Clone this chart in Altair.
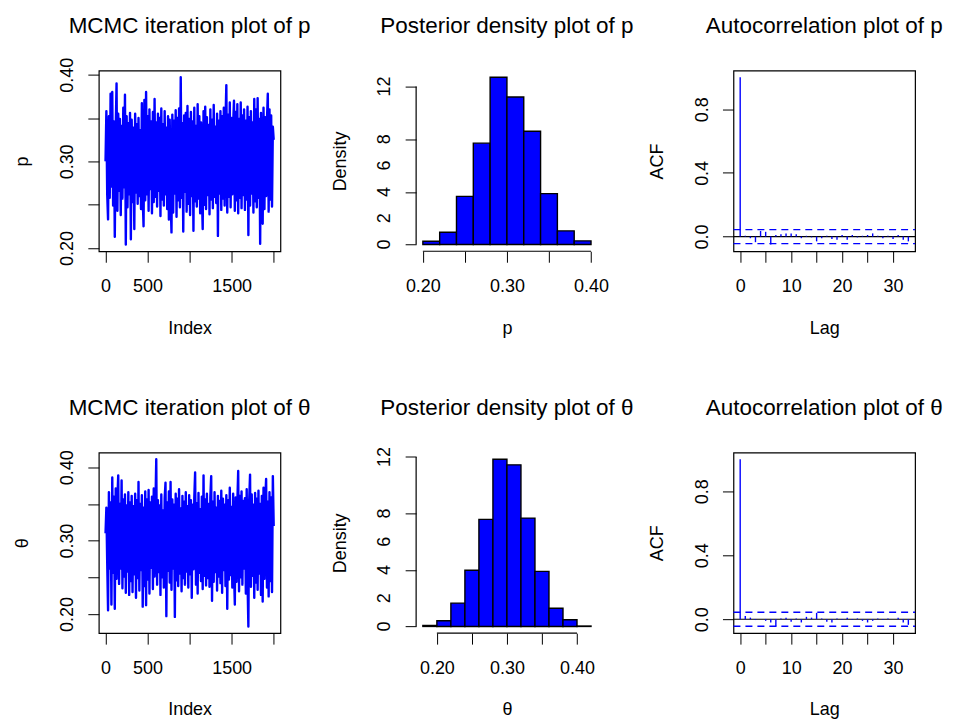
import altair as alt
import pandas as pd
import numpy as np

# ---------------- data ----------------
p_trace = [
    0.300, 0.358, 0.262, 0.233, 0.352, 0.258, 0.378, 0.271, 0.380, 0.249, 0.346, 0.213, 0.337, 0.390, 0.243, 0.355, 0.266, 0.349, 0.238, 0.341,
    0.257, 0.362, 0.270, 0.377, 0.204, 0.352, 0.247, 0.344, 0.262, 0.356, 0.210, 0.348, 0.253, 0.339, 0.222, 0.355, 0.264, 0.343, 0.251, 0.350,
    0.260, 0.336, 0.245, 0.367, 0.258, 0.225, 0.371, 0.255, 0.380, 0.262, 0.352, 0.243, 0.360, 0.268, 0.346, 0.240, 0.357, 0.253, 0.372, 0.259,
    0.345, 0.248, 0.355, 0.266, 0.350, 0.237, 0.361, 0.256, 0.343, 0.249, 0.358, 0.262, 0.339, 0.245, 0.352, 0.233, 0.348, 0.260, 0.218, 0.354,
    0.241, 0.347, 0.263, 0.359, 0.236, 0.350, 0.255, 0.361, 0.247, 0.397, 0.258, 0.344, 0.219, 0.353, 0.265, 0.356, 0.242, 0.364, 0.251, 0.349,
    0.238, 0.357, 0.260, 0.346, 0.220, 0.362, 0.254, 0.341, 0.248, 0.366, 0.257, 0.352, 0.240, 0.345, 0.264, 0.222, 0.358, 0.250, 0.363, 0.245,
    0.351, 0.261, 0.342, 0.239, 0.360, 0.256, 0.348, 0.246, 0.365, 0.259, 0.340, 0.252, 0.355, 0.214, 0.347, 0.263, 0.358, 0.244, 0.352, 0.257,
    0.362, 0.249, 0.346, 0.388, 0.241, 0.354, 0.259, 0.368, 0.247, 0.350, 0.262, 0.343, 0.370, 0.243, 0.357, 0.255, 0.366, 0.240, 0.349, 0.258,
    0.368, 0.246, 0.353, 0.261, 0.360, 0.244, 0.347, 0.256, 0.363, 0.215, 0.351, 0.249, 0.358, 0.263, 0.345, 0.241, 0.372, 0.254, 0.360, 0.247,
    0.373, 0.258, 0.349, 0.205, 0.356, 0.252, 0.228, 0.362, 0.245, 0.351, 0.260, 0.347, 0.378, 0.242, 0.360, 0.256, 0.353, 0.248, 0.340, 0.325,
]

theta_trace = [
    0.310, 0.345, 0.270, 0.205, 0.366, 0.262, 0.352, 0.213, 0.386, 0.256, 0.360, 0.207, 0.371, 0.248, 0.357, 0.389, 0.241, 0.350, 0.262, 0.382,
    0.235, 0.356, 0.251, 0.363, 0.229, 0.348, 0.258, 0.366, 0.226, 0.352, 0.245, 0.361, 0.230, 0.347, 0.254, 0.364, 0.222, 0.355, 0.249, 0.380,
    0.232, 0.350, 0.260, 0.362, 0.210, 0.345, 0.238, 0.367, 0.212, 0.356, 0.247, 0.369, 0.228, 0.352, 0.263, 0.360, 0.234, 0.371, 0.251, 0.346,
    0.411, 0.240, 0.355, 0.257, 0.348, 0.226, 0.363, 0.250, 0.341, 0.236, 0.358, 0.379, 0.197, 0.352, 0.259, 0.367, 0.243, 0.380, 0.233, 0.356,
    0.262, 0.349, 0.196, 0.364, 0.246, 0.357, 0.238, 0.370, 0.255, 0.344, 0.231, 0.361, 0.249, 0.353, 0.240, 0.366, 0.258, 0.347, 0.236, 0.362,
    0.254, 0.355, 0.222, 0.349, 0.261, 0.358, 0.393, 0.240, 0.351, 0.228, 0.365, 0.256, 0.343, 0.245, 0.360, 0.234, 0.389, 0.252, 0.356, 0.239,
    0.364, 0.249, 0.350, 0.237, 0.359, 0.388, 0.218, 0.353, 0.244, 0.366, 0.257, 0.345, 0.232, 0.361, 0.251, 0.354, 0.242, 0.368, 0.229, 0.357,
    0.260, 0.349, 0.238, 0.362, 0.207, 0.355, 0.247, 0.372, 0.253, 0.346, 0.236, 0.364, 0.258, 0.213, 0.359, 0.244, 0.352, 0.395, 0.231, 0.361,
    0.250, 0.367, 0.240, 0.354, 0.262, 0.358, 0.228, 0.370, 0.246, 0.183, 0.356, 0.390, 0.237, 0.363, 0.252, 0.349, 0.222, 0.365, 0.243, 0.357,
    0.233, 0.368, 0.255, 0.350, 0.226, 0.361, 0.217, 0.372, 0.248, 0.358, 0.384, 0.236, 0.353, 0.224, 0.366, 0.245, 0.359, 0.230, 0.388, 0.320,
]

n_iter = 2000

hist_edges_p = [0.20, 0.22, 0.24, 0.26, 0.28, 0.30, 0.32, 0.34, 0.36, 0.38, 0.40]
hist_dens_p = [0.25, 0.93, 3.66, 7.70, 12.70, 11.20, 8.60, 3.87, 1.04, 0.28]

hist_edges_theta = [0.18, 0.20, 0.22, 0.24, 0.26, 0.28, 0.30, 0.32, 0.34, 0.36, 0.38, 0.40, 0.42]
hist_dens_theta = [0.07, 0.40, 1.65, 3.98, 7.58, 11.84, 11.44, 7.67, 3.90, 1.29, 0.47, 0.03]

acf_lags = list(range(34))
acf_p = [1.0, 0.005, -0.010, -0.035, 0.035, 0.030, -0.050, 0.010, 0.015, 0.020, 0.020, 0.015,
         -0.010, 0.005, -0.005, -0.030, -0.010, 0.005, -0.015, -0.020, 0.010, -0.020, 0.010,
         -0.005, 0.005, 0.010, 0.020, 0.005, -0.010, 0.005, -0.015, 0.010, -0.020, -0.030]
acf_theta = [1.0, 0.020, 0.010, -0.005, 0.000, -0.010, -0.020, -0.045, 0.005, 0.010, -0.015,
             0.005, -0.020, 0.015, 0.010, 0.040, 0.005, -0.015, -0.020, 0.005, -0.005, 0.010,
             -0.005, 0.005, -0.010, -0.020, -0.010, 0.005, -0.005, 0.005, 0.000, 0.010, -0.020, -0.035]
acf_ci = 0.0438

trace_ticks = [0, 500, 1000, 1500, 2000]
trace_hidden = [1000, 2000]
param_ticks = [0.20, 0.25, 0.30, 0.35, 0.40]
param_hidden = [0.25, 0.35]
dens_ticks = [0, 2, 4, 6, 8, 10, 12]
dens_labels = [0, 2, 4, 6, 8, 12]
lag_ticks = [0, 5, 10, 15, 20, 25, 30]
lag_hidden = [5, 15, 25]
acf_ticks = [0.0, 0.2, 0.4, 0.6, 0.8, 1.0]
acf_hidden = [0.2, 0.6, 1.0]

# ---------------- styling ----------------
FONT = "Liberation Sans"
BLUE = "#0000FF"
W, H = 182, 181
AX_FS = 18
TITLE_FS = 22.5
TICK = 11
YPAD = 15


def hide_expr(hidden):
    conds = " || ".join(f"abs(datum.value - ({h})) < 1e-9" for h in hidden)
    return f"({conds}) ? '' : datum.label"


def common_axis(**kw):
    return alt.Axis(
        grid=False, domain=False, ticks=True, tickSize=TICK, tickColor="black", tickWidth=1,
        labelColor="black", labelFont=FONT, labelFontSize=AX_FS,
        titleFont=FONT, titleFontSize=AX_FS, titleFontWeight="normal", titleColor="black",
        labelOverlap=False, labelFlush=False, labelBound=False, labelSeparation=0, **kw)


def x_axis(values, hidden, fmt, title):
    return common_axis(values=values, labelExpr=hide_expr(hidden), format=fmt, title=title,
                       labelPadding=29, labelBaseline="alphabetic", labelAlign="center", labelAngle=0,
                       titleX=W / 2, titleY=82, titleBaseline="alphabetic", titleAlign="center",
                       titleAngle=0)


def y_axis(values, hidden, fmt, title, labels=True):
    kw = dict(values=values, format=fmt, title=title,
              labelPadding=YPAD, labelBaseline="alphabetic", labelAlign="center", labelAngle=270,
              titleX=-71, titleY=H / 2, titleBaseline="alphabetic", titleAlign="center",
              titleAngle=270, labels=labels)
    if hidden:
        kw["labelExpr"] = hide_expr(hidden)
    return common_axis(**kw)


one_row = pd.DataFrame({"k": [0]})
BOX = alt.ViewBackground(stroke="black", strokeWidth=1.2, strokeOpacity=1)
NOBOX = alt.ViewBackground(stroke="white", strokeWidth=0, strokeOpacity=0, fill="white")


def title_layer(text):
    return alt.Chart(one_row).mark_text(
        font=FONT, fontSize=TITLE_FS, color="black", align="center", baseline="alphabetic"
    ).encode(x=alt.value(W / 2), y=alt.value(-38), text=alt.value(text))


def ext(lo, hi):
    r = hi - lo
    return [lo - 0.04 * r, hi + 0.04 * r]


def trace_panel(vals, name):
    idx = np.round(np.linspace(1, n_iter, len(vals))).astype(int)
    df = pd.DataFrame({"idx": idx, "val": vals})
    line = alt.Chart(df).mark_line(color=BLUE, strokeWidth=2.4, strokeJoin="round", clip=True).encode(
        x=alt.X("idx:Q", scale=alt.Scale(domain=ext(1, n_iter), nice=False, zero=False),
                axis=x_axis(trace_ticks, trace_hidden, "d", "Index")),
        y=alt.Y("val:Q", scale=alt.Scale(domain=ext(min(vals), max(vals)), nice=False, zero=False),
                axis=y_axis(param_ticks, param_hidden, ".2f", name)),
    )
    return alt.layer(line, title_layer(f"MCMC iteration plot of {name}"), view=BOX).properties(width=W, height=H)


def hist_panel(edges, dens, name):
    df = pd.DataFrame({"lo": edges[:-1], "hi": edges[1:], "dens": dens})
    xdom = ext(edges[0], edges[-1])
    ydom = ext(0, max(dens))
    yscale = alt.Scale(domain=ydom, nice=False, zero=False)
    yax = y_axis(dens_ticks, None, "d", "Density", labels=False)
    bars = alt.Chart(df).mark_rect(color=BLUE, fill=BLUE, stroke="black", strokeWidth=1.4).encode(
        x=alt.X("lo:Q", scale=alt.Scale(domain=xdom, nice=False, zero=False),
                axis=x_axis(param_ticks, param_hidden, ".2f", name)),
        x2="hi:Q",
        y=alt.Y("dens:Q", scale=yscale, axis=yax),
        y2=alt.datum(0),
    )
    lab_df = pd.DataFrame({"lab": dens_labels, "txt": [str(v) for v in dens_labels]})
    ylabels = alt.Chart(lab_df).mark_text(
        font=FONT, fontSize=AX_FS, color="black", angle=270, align="center", baseline="alphabetic"
    ).encode(x=alt.value(-(TICK + YPAD)), y=alt.Y("lab:Q", scale=yscale, axis=yax), text="txt:N")
    xline = alt.Chart(one_row).mark_rule(color="black", strokeWidth=1.2).encode(
        x=alt.datum(param_ticks[0]), x2=alt.datum(param_ticks[-1]), y=alt.value(H))
    yline = alt.Chart(one_row).mark_rule(color="black", strokeWidth=1.2).encode(
        y=alt.datum(dens_ticks[0]), y2=alt.datum(dens_ticks[-1]), x=alt.value(0))
    return alt.layer(bars, ylabels, xline, yline,
                     title_layer(f"Posterior density plot of {name}"), view=NOBOX
                     ).properties(width=W, height=H)


def acf_panel(vals, name):
    df = pd.DataFrame({"lag": acf_lags, "acf": vals})
    xdom = ext(acf_lags[0], acf_lags[-1])
    ydom = ext(min(min(vals), -acf_ci), 1.0)
    spikes = alt.Chart(df).mark_rule(color=BLUE, strokeWidth=1.4).encode(
        x=alt.X("lag:Q", scale=alt.Scale(domain=xdom, nice=False, zero=False),
                axis=x_axis(lag_ticks, lag_hidden, "d", "Lag")),
        y=alt.Y("acf:Q", scale=alt.Scale(domain=ydom, nice=False, zero=False),
                axis=y_axis(acf_ticks, acf_hidden, ".1f", "ACF")),
        y2=alt.datum(0),
    )
    zero = alt.Chart(one_row).mark_rule(color="black", strokeWidth=1.2).encode(
        y=alt.datum(0), x=alt.value(0), x2=alt.value(W))
    ci_df = pd.DataFrame({"ci": [acf_ci, -acf_ci]})
    ci = alt.Chart(ci_df).mark_rule(color=BLUE, strokeWidth=1.3, strokeDash=[7, 5]).encode(
        y="ci:Q", x=alt.value(0), x2=alt.value(W))
    return alt.layer(ci, zero, spikes, title_layer(f"Autocorrelation plot of {name}"),
                     view=BOX).properties(width=W, height=H)


panels = [
    trace_panel(p_trace, "p"), hist_panel(hist_edges_p, hist_dens_p, "p"), acf_panel(acf_p, "p"),
    trace_panel(theta_trace, "θ"), hist_panel(hist_edges_theta, hist_dens_theta, "θ"), acf_panel(acf_theta, "θ"),
]

chart = alt.concat(
    *panels, columns=3, spacing={"row": 201.7, "column": 136}, bounds="flush"
).properties(
    padding={"left": 5, "top": 5, "right": 5, "bottom": 5},
    background="white",
).configure_view(stroke="transparent", strokeWidth=0).configure_axis(labelOverlap=False).configure(font=FONT)

chart.save("out.html", embed_options={"renderer": "svg", "actions": False})
